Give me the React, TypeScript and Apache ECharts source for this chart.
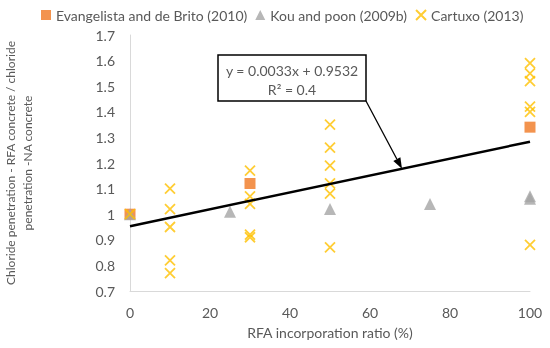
import React, { useEffect, useRef } from "react";
import * as echarts from "echarts";

const xTicks = [0, 20, 40, 60, 80, 100];
const evangelistaX = [0, 30, 100];
const evangelistaY = [1.0, 1.12, 1.34];
const kouX = [0, 25, 50, 75, 100, 100];
const kouY = [1.0, 1.01, 1.02, 1.04, 1.07, 1.06];
const cartuxoX = [0, 10, 10, 10, 10, 10, 30, 30, 30, 30, 30, 50, 50, 50, 50, 50, 50, 100, 100, 100, 100, 100, 100];
const cartuxoY = [1.0, 1.1, 1.02, 0.95, 0.82, 0.77, 1.17, 1.07, 1.04, 0.91, 0.92, 1.35, 1.26, 1.19, 1.12, 1.08, 0.87, 1.59, 1.55, 1.52, 1.42, 1.4, 0.88];
const trendSlope = 0.0033;
const trendIntercept = 0.9532;
const trendX = [0, 100];
const equationText = "y = 0.0033x + 0.9532";
const r2Text = "R\u00B2 = 0.4";
const arrowTargetX = 68;

const FONT = "Lato";
const TEXT = "#595959";

const zip = (xs: number[], ys: number[]) => xs.map((x, i) => [x, ys[i]]);

export default function App() {
  const ref = useRef<HTMLDivElement>(null);
  useEffect(() => {
    if (!ref.current) return;
    const chart = echarts.init(ref.current, null, { renderer: "svg" });
    const boxX = 218, boxY = 55, boxW = 148, boxH = 46;
    chart.setOption({
      animation: false,
      grid: { left: 130, right: 20, top: 35, bottom: 57, containLabel: false, outerBoundsMode: "none" },
      legend: {
        top: 3,
        left: 36,
        itemWidth: 10,
        itemHeight: 10,
        itemGap: 8,
        textStyle: { color: TEXT, fontFamily: FONT, fontSize: 14 },
        data: ["Evangelista and de Brito (2010)", "Kou and poon (2009b)", "Cartuxo (2013)"],
      },
      xAxis: {
        type: "value",
        min: 0,
        max: 100,
        interval: 20,
        name: "RFA incorporation ratio (%)",
        nameLocation: "middle",
        nameGap: 34,
        nameTextStyle: { color: TEXT, fontFamily: FONT, fontSize: 14 },
        axisLine: { show: true, lineStyle: { color: "#d9d9d9", width: 1 } },
        axisTick: { show: false },
        splitLine: { show: false },
        axisLabel: { color: TEXT, fontFamily: FONT, fontSize: 14, margin: 14 },
      },
      yAxis: {
        type: "value",
        min: 0.7,
        max: 1.7,
        interval: 0.1,
        name: "Chloride penetration - RFA concrete / chloride\npenetration -NA concrete",
        nameLocation: "middle",
        nameGap: 94,
        nameTextStyle: { color: TEXT, fontFamily: FONT, fontSize: 12, lineHeight: 17, align: "center" },
        axisLine: { show: true, lineStyle: { color: "#d9d9d9", width: 1 } },
        axisTick: { show: false },
        splitLine: { show: false },
        axisLabel: {
          color: TEXT,
          fontFamily: FONT,
          fontSize: 14,
          margin: 15,
          formatter: (v: number) => String(+v.toFixed(1)),
        },
      },
      series: [
        {
          name: "Evangelista and de Brito (2010)",
          type: "scatter",
          symbol: "rect",
          symbolSize: 11,
          itemStyle: { color: "#F07822" },
          data: zip(evangelistaX, evangelistaY),
          z: 2,
        },
        {
          name: "Kou and poon (2009b)",
          type: "scatter",
          symbol: "triangle",
          symbolSize: [12, 12],
          itemStyle: { color: "#A5A5A5" },
          data: zip(kouX, kouY),
          z: 3,
        },
        {
          name: "Cartuxo (2013)",
          type: "scatter",
          symbol: "path://M0,0L10,10M10,0L0,10",
          symbolSize: 10,
          itemStyle: { color: "rgba(0,0,0,0)", borderColor: "#FFC000", borderWidth: 1.8 },
          data: zip(cartuxoX, cartuxoY),
          z: 4,
        },
        {
          name: "trend",
          type: "line",
          symbol: "none",
          lineStyle: { color: "#000", width: 2.5 },
          data: trendX.map((x) => [x, trendSlope * x + trendIntercept]),
          z: 5,
        },
      ],
    });

    const tip = chart.convertToPixel({ gridIndex: 0 }, [
      arrowTargetX,
      trendSlope * arrowTargetX + trendIntercept,
    ]) as number[];
    const sx = boxX + boxW, sy = boxY + boxH;
    const dx = tip[0] - sx, dy = tip[1] - sy;
    const len = Math.sqrt(dx * dx + dy * dy);
    const ux = dx / len, uy = dy / len;
    const headL = 11, headW = 4;
    const bx = tip[0] - ux * headL, by = tip[1] - uy * headL;
    chart.setOption({
      graphic: [
        {
          type: "rect",
          shape: { x: boxX, y: boxY, width: boxW, height: boxH },
          style: { fill: "#fff", stroke: "#000", lineWidth: 1.5 },
          z: 100,
        },
        {
          type: "text",
          x: boxX + boxW / 2,
          y: boxY + 15,
          style: { text: equationText, align: "center", verticalAlign: "middle", fill: TEXT, font: `14px ${FONT}` },
          z: 101,
        },
        {
          type: "text",
          x: boxX + boxW / 2,
          y: boxY + 34,
          style: { text: r2Text, align: "center", verticalAlign: "middle", fill: TEXT, font: `14px ${FONT}` },
          z: 101,
        },
        {
          type: "line",
          shape: { x1: sx, y1: sy, x2: bx, y2: by },
          style: { stroke: "#000", lineWidth: 1.3 },
          z: 100,
        },
        {
          type: "polygon",
          shape: {
            points: [
              [tip[0], tip[1]],
              [bx - uy * headW, by + ux * headW],
              [bx + uy * headW, by - ux * headW],
            ],
          },
          style: { fill: "#000" },
          z: 100,
        },
      ],
    });
    return () => chart.dispose();
  }, []);
  return <div ref={ref} style={{ position: "fixed", left: 0, top: 0, width: 550, height: 348 }} />;
}
